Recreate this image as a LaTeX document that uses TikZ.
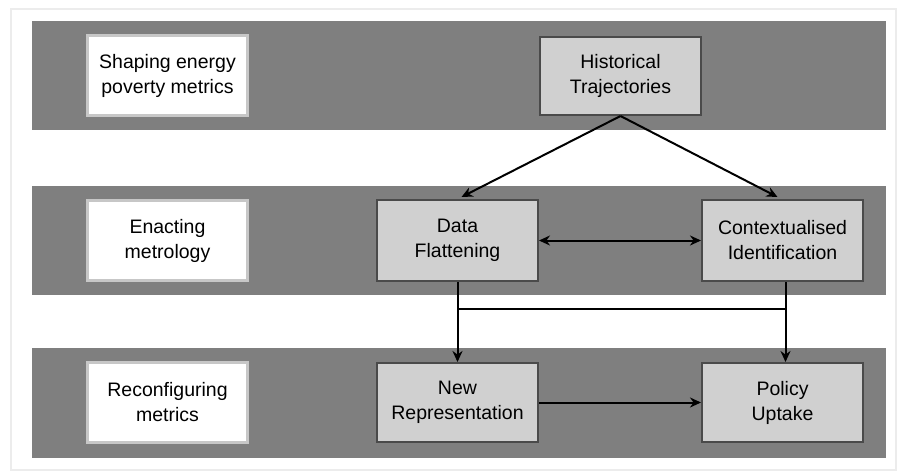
\documentclass[tikz,border=0pt]{standalone}
\usepackage{fontspec}
\setmainfont{Liberation Sans}
\usetikzlibrary{arrows.meta}
\definecolor{bandgray}{HTML}{7F7F7F}
\definecolor{boxgray}{HTML}{D0D0D0}
\definecolor{rimgray}{HTML}{4A4A4A}
\definecolor{framegray}{HTML}{ECECEC}
\begin{document}
\begin{tikzpicture}
    [x=1pt,y=-1pt,
    font=\fontsize{19.5}{25}\selectfont,
    band/.style={shape=rectangle,fill=bandgray,inner sep=0pt,minimum width=854pt},
    stage/.style={shape=rectangle,draw=black!22,fill=white,line width=3pt,align=center,minimum width=160pt,minimum height=80pt},
    box/.style={shape=rectangle,draw=rimgray,fill=boxgray,line width=2pt,align=center,minimum width=161pt,minimum height=81pt},
    arc/.style={-{Stealth[length=11pt,width=10pt]},line width=2pt},
    dblarc/.style={{Stealth[length=11pt,width=10pt]}-{Stealth[length=11pt,width=10pt]},line width=2pt},
    edge/.style={line width=2pt}]

    \useasboundingbox (0,0) rectangle (897,471);
    \draw [framegray,line width=2pt] (11,9) rectangle (896,470);

    % the three bands
    \node (band1) [band,minimum height=109pt] at (459,75.5) {};
    \node (band2) [band,minimum height=109pt] at (459,240.5) {};
    \node (band3) [band,minimum height=110pt] at (459,403) {};

    \node (shaping) [stage] at (167.5,75.5) {Shaping energy\\poverty metrics};
    \node (enacting) [stage] at (167.5,240.5) {Enacting\\metrology};
    \node (reconf) [stage] at (167.5,402) {Reconfiguring\\metrics};

    \node (hist) [box,minimum height=78pt] at (620.5,76) {Historical\\Trajectories};
    \node (flat) [box] at (457.5,240.5) {Data\\Flattening};
    \node (ctx) [box] at (782.5,240.5) {Contextualised\\Identification};
    \node (newrep) [box,minimum height=79pt] at (457.5,402.5) {New\\Representation};
    \node (policy) [box,minimum height=79pt] at (782.5,402.5) {Policy\\Uptake};

    \coordinate (jl) at (457.5,309);
    \coordinate (jr) at (785.5,309);

    \draw [arc] (hist.south) -- ([xshift=4pt,yshift=2pt]flat.north);
    \draw [arc] (hist.south) -- ([xshift=-5pt,yshift=2pt]ctx.north);
    \draw [dblarc] (flat) -- (ctx);
    \draw [arc] (flat.south) -- (newrep.north);
    \draw [arc] ([xshift=3pt]ctx.south) -- ([xshift=3pt]policy.north);
    \draw [edge] (jl) -- (jr);
    \draw [arc] (newrep) -- (policy);

\end{tikzpicture}
\end{document}
